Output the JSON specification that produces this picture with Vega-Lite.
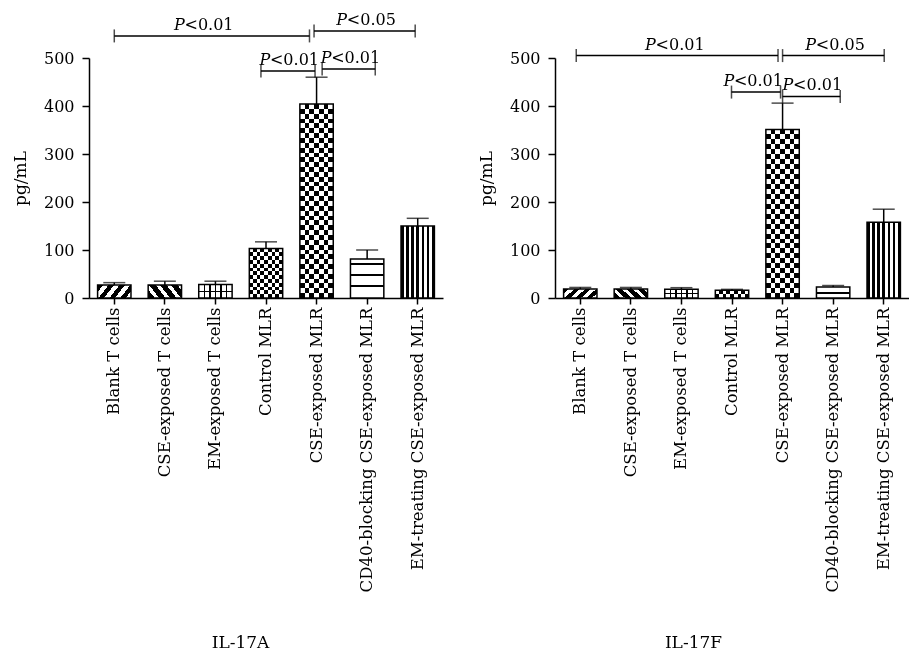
{
  "$schema": "https://vega.github.io/schema/vega-lite/v6.json",
  "padding": {"left": 11, "top": 12, "right": 0, "bottom": 0},
  "spacing": 34,
  "datasets": {
    "a_bars": [
      {"group": "Blank T cells", "value": 27, "upper": 32},
      {"group": "CSE-exposed T cells", "value": 27, "upper": 35},
      {"group": "EM-exposed T cells", "value": 28, "upper": 35},
      {"group": "Control MLR", "value": 103, "upper": 117},
      {"group": "CSE-exposed MLR", "value": 404, "upper": 460},
      {"group": "CD40-blocking CSE-exposed MLR", "value": 81, "upper": 100},
      {"group": "EM-treating CSE-exposed MLR", "value": 150, "upper": 166}
    ],
    "a_sig": [
      {"from": 1, "to": 4.86, "h": 546, "mid": 2.77, "label": "<0.01"},
      {"from": 4.95, "to": 6.95, "h": 556, "mid": 5.98, "label": "<0.05"},
      {"from": 3.9, "to": 4.97, "h": 473, "mid": 4.46, "label": "<0.01"},
      {"from": 5.11, "to": 6.16, "h": 477, "mid": 5.67, "label": "<0.01"}
    ],
    "f_bars": [
      {"group": "Blank T cells", "value": 19, "upper": 22},
      {"group": "CSE-exposed T cells", "value": 19, "upper": 22},
      {"group": "EM-exposed T cells", "value": 18, "upper": 21.5},
      {"group": "Control MLR", "value": 16, "upper": 18},
      {"group": "CSE-exposed MLR", "value": 351, "upper": 406},
      {"group": "CD40-blocking CSE-exposed MLR", "value": 23, "upper": 26},
      {"group": "EM-treating CSE-exposed MLR", "value": 158, "upper": 185}
    ],
    "f_sig": [
      {"from": 0.92, "to": 4.91, "h": 505, "mid": 2.87, "label": "<0.01"},
      {"from": 5.0, "to": 7.01, "h": 505, "mid": 6.04, "label": "<0.05"},
      {"from": 3.99, "to": 4.96, "h": 429, "mid": 4.42, "label": "<0.01"},
      {"from": 5.0, "to": 6.14, "h": 420, "mid": 5.59, "label": "<0.01"}
    ]
  },
  "hconcat": [
    {
      "width": 354,
      "height": 240,
      "resolve": {"scale": {"x": "independent"}},
      "layer": [
        {
          "data": {"name": "a_bars"},
          "encoding": {
            "x": {"field": "group", "type": "nominal", "sort": null,
              "scale": {"domain": ["Blank T cells", "CSE-exposed T cells", "EM-exposed T cells", "Control MLR", "CSE-exposed MLR", "CD40-blocking CSE-exposed MLR", "EM-treating CSE-exposed MLR"], "paddingInner": 0.34, "paddingOuter": 0.17},
              "axis": {"title": "IL-17A", "labelAngle": -90, "labelAlign": "right", "labelBaseline": "middle", "labelLimit": 0, "labelFontSize": 16.5, "tickSize": 6, "labelPadding": 3, "titleX": 151, "titleY": 349, "titleBaseline": "alphabetic"}},
            "y": {"field": "value", "type": "quantitative", "scale": {"domain": [0, 500]},
              "axis": {"title": "pg/mL", "values": [0, 100, 200, 300, 400, 500], "tickSize": 7, "labelPadding": 8, "titlePadding": 14}}
          },
          "layer": [
            {"mark": {"type": "bar", "strokeWidth": 0},
             "encoding": {"fill": {"condition": [
               {"test": "datum.group == 'Blank T cells'", "value": {"gradient": "linear", "x1": 0, "y1": 0, "x2": 1.2, "y2": 0.36, "stops": [{"offset": 0, "color": "#000"}, {"offset": 0.125, "color": "#000"}, {"offset": 0.125, "color": "#fff"}, {"offset": 0.25, "color": "#fff"}, {"offset": 0.25, "color": "#000"}, {"offset": 0.375, "color": "#000"}, {"offset": 0.375, "color": "#fff"}, {"offset": 0.5, "color": "#fff"}, {"offset": 0.5, "color": "#000"}, {"offset": 0.625, "color": "#000"}, {"offset": 0.625, "color": "#fff"}, {"offset": 0.75, "color": "#fff"}, {"offset": 0.75, "color": "#000"}, {"offset": 0.875, "color": "#000"}, {"offset": 0.875, "color": "#fff"}, {"offset": 1, "color": "#fff"}]}},
               {"test": "datum.group == 'CSE-exposed T cells'", "value": {"gradient": "linear", "x1": 0, "y1": 1, "x2": 1.2, "y2": 0.64, "stops": [{"offset": 0, "color": "#000"}, {"offset": 0.15, "color": "#000"}, {"offset": 0.15, "color": "#fff"}, {"offset": 0.25, "color": "#fff"}, {"offset": 0.25, "color": "#000"}, {"offset": 0.4, "color": "#000"}, {"offset": 0.4, "color": "#fff"}, {"offset": 0.5, "color": "#fff"}, {"offset": 0.5, "color": "#000"}, {"offset": 0.65, "color": "#000"}, {"offset": 0.65, "color": "#fff"}, {"offset": 0.75, "color": "#fff"}, {"offset": 0.75, "color": "#000"}, {"offset": 0.9, "color": "#000"}, {"offset": 0.9, "color": "#fff"}, {"offset": 1, "color": "#fff"}]}},
               {"test": "datum.group == 'EM-exposed T cells'", "value": {"gradient": "linear", "x1": 0, "y1": 0, "x2": 1, "y2": 0, "stops": [{"offset": 0, "color": "#fff"}, {"offset": 0.144, "color": "#fff"}, {"offset": 0.144, "color": "#000"}, {"offset": 0.189, "color": "#000"}, {"offset": 0.189, "color": "#fff"}, {"offset": 0.311, "color": "#fff"}, {"offset": 0.311, "color": "#000"}, {"offset": 0.356, "color": "#000"}, {"offset": 0.356, "color": "#fff"}, {"offset": 0.478, "color": "#fff"}, {"offset": 0.478, "color": "#000"}, {"offset": 0.522, "color": "#000"}, {"offset": 0.522, "color": "#fff"}, {"offset": 0.644, "color": "#fff"}, {"offset": 0.644, "color": "#000"}, {"offset": 0.689, "color": "#000"}, {"offset": 0.689, "color": "#fff"}, {"offset": 0.811, "color": "#fff"}, {"offset": 0.811, "color": "#000"}, {"offset": 0.856, "color": "#000"}, {"offset": 0.856, "color": "#fff"}, {"offset": 1, "color": "#fff"}]}},
               {"test": "datum.group == 'Control MLR'", "value": {"gradient": "linear", "x1": 0, "y1": 0, "x2": 1, "y2": 0, "stops": [{"offset": 0, "color": "#000"}, {"offset": 0.1111, "color": "#000"}, {"offset": 0.1111, "color": "#fff"}, {"offset": 0.2222, "color": "#fff"}, {"offset": 0.2222, "color": "#000"}, {"offset": 0.3333, "color": "#000"}, {"offset": 0.3333, "color": "#fff"}, {"offset": 0.4444, "color": "#fff"}, {"offset": 0.4444, "color": "#000"}, {"offset": 0.5556, "color": "#000"}, {"offset": 0.5556, "color": "#fff"}, {"offset": 0.6667, "color": "#fff"}, {"offset": 0.6667, "color": "#000"}, {"offset": 0.7778, "color": "#000"}, {"offset": 0.7778, "color": "#fff"}, {"offset": 0.8889, "color": "#fff"}, {"offset": 0.8889, "color": "#000"}, {"offset": 1, "color": "#000"}]}},
               {"test": "datum.group == 'CSE-exposed MLR'", "value": {"gradient": "linear", "x1": 0, "y1": 0, "x2": 1, "y2": 0, "stops": [{"offset": 0, "color": "#000"}, {"offset": 0.1429, "color": "#000"}, {"offset": 0.1429, "color": "#fff"}, {"offset": 0.2857, "color": "#fff"}, {"offset": 0.2857, "color": "#000"}, {"offset": 0.4286, "color": "#000"}, {"offset": 0.4286, "color": "#fff"}, {"offset": 0.5714, "color": "#fff"}, {"offset": 0.5714, "color": "#000"}, {"offset": 0.7143, "color": "#000"}, {"offset": 0.7143, "color": "#fff"}, {"offset": 0.8571, "color": "#fff"}, {"offset": 0.8571, "color": "#000"}, {"offset": 1, "color": "#000"}]}},
               {"test": "datum.group == 'CD40-blocking CSE-exposed MLR'", "value": {"gradient": "linear", "x1": 0, "y1": 0, "x2": 0, "y2": 1, "stops": [{"offset": 0, "color": "#fff"}, {"offset": 0.1, "color": "#fff"}, {"offset": 0.1, "color": "#000"}, {"offset": 0.15, "color": "#000"}, {"offset": 0.15, "color": "#fff"}, {"offset": 0.39, "color": "#fff"}, {"offset": 0.39, "color": "#000"}, {"offset": 0.44, "color": "#000"}, {"offset": 0.44, "color": "#fff"}, {"offset": 0.66, "color": "#fff"}, {"offset": 0.66, "color": "#000"}, {"offset": 0.71, "color": "#000"}, {"offset": 0.71, "color": "#fff"}, {"offset": 1, "color": "#fff"}]}},
               {"test": "datum.group == 'EM-treating CSE-exposed MLR'", "value": {"gradient": "linear", "x1": 0, "y1": 0, "x2": 1, "y2": 0, "stops": [{"offset": 0, "color": "#000"}, {"offset": 0.0769, "color": "#000"}, {"offset": 0.0769, "color": "#fff"}, {"offset": 0.1538, "color": "#fff"}, {"offset": 0.1538, "color": "#000"}, {"offset": 0.2308, "color": "#000"}, {"offset": 0.2308, "color": "#fff"}, {"offset": 0.3077, "color": "#fff"}, {"offset": 0.3077, "color": "#000"}, {"offset": 0.3846, "color": "#000"}, {"offset": 0.3846, "color": "#fff"}, {"offset": 0.4615, "color": "#fff"}, {"offset": 0.4615, "color": "#000"}, {"offset": 0.5385, "color": "#000"}, {"offset": 0.5385, "color": "#fff"}, {"offset": 0.6154, "color": "#fff"}, {"offset": 0.6154, "color": "#000"}, {"offset": 0.6923, "color": "#000"}, {"offset": 0.6923, "color": "#fff"}, {"offset": 0.7692, "color": "#fff"}, {"offset": 0.7692, "color": "#000"}, {"offset": 0.8462, "color": "#000"}, {"offset": 0.8462, "color": "#fff"}, {"offset": 0.9231, "color": "#fff"}, {"offset": 0.9231, "color": "#000"}, {"offset": 1, "color": "#000"}]}}
             ], "value": "#888"}}},
            {"transform": [{"filter": "datum.group == 'Control MLR' || datum.group == 'CSE-exposed MLR'"}],
             "mark": {"type": "bar", "strokeWidth": 0, "blend": "difference"},
             "encoding": {"fill": {"condition": [
               {"test": "datum.group == 'Control MLR'", "value": {"gradient": "linear", "x1": 0, "y1": 0, "x2": 0, "y2": 1, "stops": [{"offset": 0, "color": "#fff"}, {"offset": 0.0769, "color": "#fff"}, {"offset": 0.0769, "color": "#000"}, {"offset": 0.1538, "color": "#000"}, {"offset": 0.1538, "color": "#fff"}, {"offset": 0.2308, "color": "#fff"}, {"offset": 0.2308, "color": "#000"}, {"offset": 0.3077, "color": "#000"}, {"offset": 0.3077, "color": "#fff"}, {"offset": 0.3846, "color": "#fff"}, {"offset": 0.3846, "color": "#000"}, {"offset": 0.4615, "color": "#000"}, {"offset": 0.4615, "color": "#fff"}, {"offset": 0.5385, "color": "#fff"}, {"offset": 0.5385, "color": "#000"}, {"offset": 0.6154, "color": "#000"}, {"offset": 0.6154, "color": "#fff"}, {"offset": 0.6923, "color": "#fff"}, {"offset": 0.6923, "color": "#000"}, {"offset": 0.7692, "color": "#000"}, {"offset": 0.7692, "color": "#fff"}, {"offset": 0.8462, "color": "#fff"}, {"offset": 0.8462, "color": "#000"}, {"offset": 0.9231, "color": "#000"}, {"offset": 0.9231, "color": "#fff"}, {"offset": 1, "color": "#fff"}]}},
               {"test": "datum.group == 'CSE-exposed MLR'", "value": {"gradient": "linear", "x1": 0, "y1": 0, "x2": 0, "y2": 1, "stops": [{"offset": 0, "color": "#fff"}, {"offset": 0.025, "color": "#fff"}, {"offset": 0.025, "color": "#000"}, {"offset": 0.05, "color": "#000"}, {"offset": 0.05, "color": "#fff"}, {"offset": 0.075, "color": "#fff"}, {"offset": 0.075, "color": "#000"}, {"offset": 0.1, "color": "#000"}, {"offset": 0.1, "color": "#fff"}, {"offset": 0.125, "color": "#fff"}, {"offset": 0.125, "color": "#000"}, {"offset": 0.15, "color": "#000"}, {"offset": 0.15, "color": "#fff"}, {"offset": 0.175, "color": "#fff"}, {"offset": 0.175, "color": "#000"}, {"offset": 0.2, "color": "#000"}, {"offset": 0.2, "color": "#fff"}, {"offset": 0.225, "color": "#fff"}, {"offset": 0.225, "color": "#000"}, {"offset": 0.25, "color": "#000"}, {"offset": 0.25, "color": "#fff"}, {"offset": 0.275, "color": "#fff"}, {"offset": 0.275, "color": "#000"}, {"offset": 0.3, "color": "#000"}, {"offset": 0.3, "color": "#fff"}, {"offset": 0.325, "color": "#fff"}, {"offset": 0.325, "color": "#000"}, {"offset": 0.35, "color": "#000"}, {"offset": 0.35, "color": "#fff"}, {"offset": 0.375, "color": "#fff"}, {"offset": 0.375, "color": "#000"}, {"offset": 0.4, "color": "#000"}, {"offset": 0.4, "color": "#fff"}, {"offset": 0.425, "color": "#fff"}, {"offset": 0.425, "color": "#000"}, {"offset": 0.45, "color": "#000"}, {"offset": 0.45, "color": "#fff"}, {"offset": 0.475, "color": "#fff"}, {"offset": 0.475, "color": "#000"}, {"offset": 0.5, "color": "#000"}, {"offset": 0.5, "color": "#fff"}, {"offset": 0.525, "color": "#fff"}, {"offset": 0.525, "color": "#000"}, {"offset": 0.55, "color": "#000"}, {"offset": 0.55, "color": "#fff"}, {"offset": 0.575, "color": "#fff"}, {"offset": 0.575, "color": "#000"}, {"offset": 0.6, "color": "#000"}, {"offset": 0.6, "color": "#fff"}, {"offset": 0.625, "color": "#fff"}, {"offset": 0.625, "color": "#000"}, {"offset": 0.65, "color": "#000"}, {"offset": 0.65, "color": "#fff"}, {"offset": 0.675, "color": "#fff"}, {"offset": 0.675, "color": "#000"}, {"offset": 0.7, "color": "#000"}, {"offset": 0.7, "color": "#fff"}, {"offset": 0.725, "color": "#fff"}, {"offset": 0.725, "color": "#000"}, {"offset": 0.75, "color": "#000"}, {"offset": 0.75, "color": "#fff"}, {"offset": 0.775, "color": "#fff"}, {"offset": 0.775, "color": "#000"}, {"offset": 0.8, "color": "#000"}, {"offset": 0.8, "color": "#fff"}, {"offset": 0.825, "color": "#fff"}, {"offset": 0.825, "color": "#000"}, {"offset": 0.85, "color": "#000"}, {"offset": 0.85, "color": "#fff"}, {"offset": 0.875, "color": "#fff"}, {"offset": 0.875, "color": "#000"}, {"offset": 0.9, "color": "#000"}, {"offset": 0.9, "color": "#fff"}, {"offset": 0.925, "color": "#fff"}, {"offset": 0.925, "color": "#000"}, {"offset": 0.95, "color": "#000"}, {"offset": 0.95, "color": "#fff"}, {"offset": 0.975, "color": "#fff"}, {"offset": 0.975, "color": "#000"}, {"offset": 1, "color": "#000"}]}}
             ], "value": "#000"}}},
            {"transform": [{"filter": "datum.group == 'EM-exposed T cells'"}],
             "mark": {"type": "bar", "strokeWidth": 0, "blend": "multiply",
               "fill": {"gradient": "linear", "x1": 0, "y1": 0, "x2": 0, "y2": 1, "stops": [{"offset": 0, "color": "#fff"}, {"offset": 0.45, "color": "#fff"}, {"offset": 0.45, "color": "#000"}, {"offset": 0.58, "color": "#000"}, {"offset": 0.58, "color": "#fff"}, {"offset": 1, "color": "#fff"}]}}},
            {"mark": {"type": "bar", "filled": false, "stroke": "#000", "strokeWidth": 1.5}},
            {"mark": {"type": "rule", "color": "#000", "strokeWidth": 1.5}, "encoding": {"y2": {"field": "upper"}}},
            {"mark": {"type": "tick", "color": "#000", "size": 22, "thickness": 1.5},
             "encoding": {"y": {"field": "upper", "type": "quantitative", "scale": {"domain": [0, 500]},
               "axis": {"title": "pg/mL", "values": [0, 100, 200, 300, 400, 500], "tickSize": 7, "labelPadding": 8, "titlePadding": 14}}}}
          ]
        },
        {
          "data": {"name": "a_sig"},
          "encoding": {
            "y": {"field": "h", "type": "quantitative", "scale": {"domain": [0, 500]},
              "axis": {"title": "pg/mL", "values": [0, 100, 200, 300, 400, 500], "tickSize": 7, "labelPadding": 8, "titlePadding": 14}}
          },
          "layer": [
            {"mark": {"type": "rule", "color": "#000", "strokeWidth": 1.5},
             "encoding": {"x": {"field": "from", "type": "quantitative", "scale": {"domain": [0.5, 7.5], "nice": false, "zero": false}, "axis": null}, "x2": {"field": "to"}}},
            {"transform": [{"fold": ["from", "to"], "as": ["end", "pos"]}],
             "mark": {"type": "tick", "orient": "vertical", "color": "#000", "size": 13, "thickness": 1.5},
             "encoding": {"x": {"field": "pos", "type": "quantitative", "scale": {"domain": [0.5, 7.5], "nice": false, "zero": false}, "axis": null}}},
            {"mark": {"type": "text", "text": "P", "fontStyle": "italic", "align": "left", "baseline": "alphabetic", "dx": -29.8, "dy": -6},
             "encoding": {"x": {"field": "mid", "type": "quantitative", "scale": {"domain": [0.5, 7.5], "nice": false, "zero": false}, "axis": null}}},
            {"mark": {"type": "text", "align": "left", "baseline": "alphabetic", "dx": -19.3, "dy": -6},
             "encoding": {"x": {"field": "mid", "type": "quantitative", "scale": {"domain": [0.5, 7.5], "nice": false, "zero": false}, "axis": null}, "text": {"field": "label"}}}
          ]
        }
      ]
    },
    {
      "width": 354,
      "height": 240,
      "resolve": {"scale": {"x": "independent"}},
      "layer": [
        {
          "data": {"name": "f_bars"},
          "encoding": {
            "x": {"field": "group", "type": "nominal", "sort": null,
              "scale": {"domain": ["Blank T cells", "CSE-exposed T cells", "EM-exposed T cells", "Control MLR", "CSE-exposed MLR", "CD40-blocking CSE-exposed MLR", "EM-treating CSE-exposed MLR"], "paddingInner": 0.34, "paddingOuter": 0.17},
              "axis": {"title": "IL-17F", "labelAngle": -90, "labelAlign": "right", "labelBaseline": "middle", "labelLimit": 0, "labelFontSize": 16.5, "tickSize": 6, "labelPadding": 3, "titleX": 138, "titleY": 349, "titleBaseline": "alphabetic"}},
            "y": {"field": "value", "type": "quantitative", "scale": {"domain": [0, 500]},
              "axis": {"title": "pg/mL", "values": [0, 100, 200, 300, 400, 500], "tickSize": 7, "labelPadding": 8, "titlePadding": 14}}
          },
          "layer": [
            {"mark": {"type": "bar", "strokeWidth": 0},
             "encoding": {"fill": {"condition": [
               {"test": "datum.group == 'Blank T cells'", "value": {"gradient": "linear", "x1": 0, "y1": 0, "x2": 1.2, "y2": 0.36, "stops": [{"offset": 0, "color": "#000"}, {"offset": 0.125, "color": "#000"}, {"offset": 0.125, "color": "#fff"}, {"offset": 0.25, "color": "#fff"}, {"offset": 0.25, "color": "#000"}, {"offset": 0.375, "color": "#000"}, {"offset": 0.375, "color": "#fff"}, {"offset": 0.5, "color": "#fff"}, {"offset": 0.5, "color": "#000"}, {"offset": 0.625, "color": "#000"}, {"offset": 0.625, "color": "#fff"}, {"offset": 0.75, "color": "#fff"}, {"offset": 0.75, "color": "#000"}, {"offset": 0.875, "color": "#000"}, {"offset": 0.875, "color": "#fff"}, {"offset": 1, "color": "#fff"}]}},
               {"test": "datum.group == 'CSE-exposed T cells'", "value": {"gradient": "linear", "x1": 0, "y1": 1, "x2": 1.2, "y2": 0.64, "stops": [{"offset": 0, "color": "#000"}, {"offset": 0.15, "color": "#000"}, {"offset": 0.15, "color": "#fff"}, {"offset": 0.25, "color": "#fff"}, {"offset": 0.25, "color": "#000"}, {"offset": 0.4, "color": "#000"}, {"offset": 0.4, "color": "#fff"}, {"offset": 0.5, "color": "#fff"}, {"offset": 0.5, "color": "#000"}, {"offset": 0.65, "color": "#000"}, {"offset": 0.65, "color": "#fff"}, {"offset": 0.75, "color": "#fff"}, {"offset": 0.75, "color": "#000"}, {"offset": 0.9, "color": "#000"}, {"offset": 0.9, "color": "#fff"}, {"offset": 1, "color": "#fff"}]}},
               {"test": "datum.group == 'EM-exposed T cells'", "value": {"gradient": "linear", "x1": 0, "y1": 0, "x2": 1, "y2": 0, "stops": [{"offset": 0, "color": "#fff"}, {"offset": 0.144, "color": "#fff"}, {"offset": 0.144, "color": "#000"}, {"offset": 0.189, "color": "#000"}, {"offset": 0.189, "color": "#fff"}, {"offset": 0.311, "color": "#fff"}, {"offset": 0.311, "color": "#000"}, {"offset": 0.356, "color": "#000"}, {"offset": 0.356, "color": "#fff"}, {"offset": 0.478, "color": "#fff"}, {"offset": 0.478, "color": "#000"}, {"offset": 0.522, "color": "#000"}, {"offset": 0.522, "color": "#fff"}, {"offset": 0.644, "color": "#fff"}, {"offset": 0.644, "color": "#000"}, {"offset": 0.689, "color": "#000"}, {"offset": 0.689, "color": "#fff"}, {"offset": 0.811, "color": "#fff"}, {"offset": 0.811, "color": "#000"}, {"offset": 0.856, "color": "#000"}, {"offset": 0.856, "color": "#fff"}, {"offset": 1, "color": "#fff"}]}},
               {"test": "datum.group == 'Control MLR'", "value": {"gradient": "linear", "x1": 0, "y1": 0, "x2": 1, "y2": 0, "stops": [{"offset": 0, "color": "#000"}, {"offset": 0.1111, "color": "#000"}, {"offset": 0.1111, "color": "#fff"}, {"offset": 0.2222, "color": "#fff"}, {"offset": 0.2222, "color": "#000"}, {"offset": 0.3333, "color": "#000"}, {"offset": 0.3333, "color": "#fff"}, {"offset": 0.4444, "color": "#fff"}, {"offset": 0.4444, "color": "#000"}, {"offset": 0.5556, "color": "#000"}, {"offset": 0.5556, "color": "#fff"}, {"offset": 0.6667, "color": "#fff"}, {"offset": 0.6667, "color": "#000"}, {"offset": 0.7778, "color": "#000"}, {"offset": 0.7778, "color": "#fff"}, {"offset": 0.8889, "color": "#fff"}, {"offset": 0.8889, "color": "#000"}, {"offset": 1, "color": "#000"}]}},
               {"test": "datum.group == 'CSE-exposed MLR'", "value": {"gradient": "linear", "x1": 0, "y1": 0, "x2": 1, "y2": 0, "stops": [{"offset": 0, "color": "#000"}, {"offset": 0.1429, "color": "#000"}, {"offset": 0.1429, "color": "#fff"}, {"offset": 0.2857, "color": "#fff"}, {"offset": 0.2857, "color": "#000"}, {"offset": 0.4286, "color": "#000"}, {"offset": 0.4286, "color": "#fff"}, {"offset": 0.5714, "color": "#fff"}, {"offset": 0.5714, "color": "#000"}, {"offset": 0.7143, "color": "#000"}, {"offset": 0.7143, "color": "#fff"}, {"offset": 0.8571, "color": "#fff"}, {"offset": 0.8571, "color": "#000"}, {"offset": 1, "color": "#000"}]}},
               {"test": "datum.group == 'CD40-blocking CSE-exposed MLR'", "value": {"gradient": "linear", "x1": 0, "y1": 0, "x2": 0, "y2": 1, "stops": [{"offset": 0, "color": "#fff"}, {"offset": 0.45, "color": "#fff"}, {"offset": 0.45, "color": "#000"}, {"offset": 0.62, "color": "#000"}, {"offset": 0.62, "color": "#fff"}, {"offset": 1, "color": "#fff"}]}},
               {"test": "datum.group == 'EM-treating CSE-exposed MLR'", "value": {"gradient": "linear", "x1": 0, "y1": 0, "x2": 1, "y2": 0, "stops": [{"offset": 0, "color": "#000"}, {"offset": 0.0769, "color": "#000"}, {"offset": 0.0769, "color": "#fff"}, {"offset": 0.1538, "color": "#fff"}, {"offset": 0.1538, "color": "#000"}, {"offset": 0.2308, "color": "#000"}, {"offset": 0.2308, "color": "#fff"}, {"offset": 0.3077, "color": "#fff"}, {"offset": 0.3077, "color": "#000"}, {"offset": 0.3846, "color": "#000"}, {"offset": 0.3846, "color": "#fff"}, {"offset": 0.4615, "color": "#fff"}, {"offset": 0.4615, "color": "#000"}, {"offset": 0.5385, "color": "#000"}, {"offset": 0.5385, "color": "#fff"}, {"offset": 0.6154, "color": "#fff"}, {"offset": 0.6154, "color": "#000"}, {"offset": 0.6923, "color": "#000"}, {"offset": 0.6923, "color": "#fff"}, {"offset": 0.7692, "color": "#fff"}, {"offset": 0.7692, "color": "#000"}, {"offset": 0.8462, "color": "#000"}, {"offset": 0.8462, "color": "#fff"}, {"offset": 0.9231, "color": "#fff"}, {"offset": 0.9231, "color": "#000"}, {"offset": 1, "color": "#000"}]}}
             ], "value": "#888"}}},
            {"transform": [{"filter": "datum.group == 'Control MLR' || datum.group == 'CSE-exposed MLR'"}],
             "mark": {"type": "bar", "strokeWidth": 0, "blend": "difference"},
             "encoding": {"fill": {"condition": [
               {"test": "datum.group == 'Control MLR'", "value": {"gradient": "linear", "x1": 0, "y1": 0, "x2": 0, "y2": 1, "stops": [{"offset": 0, "color": "#fff"}, {"offset": 0.5, "color": "#fff"}, {"offset": 0.5, "color": "#000"}, {"offset": 1, "color": "#000"}]}},
               {"test": "datum.group == 'CSE-exposed MLR'", "value": {"gradient": "linear", "x1": 0, "y1": 0, "x2": 0, "y2": 1, "stops": [{"offset": 0, "color": "#fff"}, {"offset": 0.0294, "color": "#fff"}, {"offset": 0.0294, "color": "#000"}, {"offset": 0.0588, "color": "#000"}, {"offset": 0.0588, "color": "#fff"}, {"offset": 0.0882, "color": "#fff"}, {"offset": 0.0882, "color": "#000"}, {"offset": 0.1176, "color": "#000"}, {"offset": 0.1176, "color": "#fff"}, {"offset": 0.1471, "color": "#fff"}, {"offset": 0.1471, "color": "#000"}, {"offset": 0.1765, "color": "#000"}, {"offset": 0.1765, "color": "#fff"}, {"offset": 0.2059, "color": "#fff"}, {"offset": 0.2059, "color": "#000"}, {"offset": 0.2353, "color": "#000"}, {"offset": 0.2353, "color": "#fff"}, {"offset": 0.2647, "color": "#fff"}, {"offset": 0.2647, "color": "#000"}, {"offset": 0.2941, "color": "#000"}, {"offset": 0.2941, "color": "#fff"}, {"offset": 0.3235, "color": "#fff"}, {"offset": 0.3235, "color": "#000"}, {"offset": 0.3529, "color": "#000"}, {"offset": 0.3529, "color": "#fff"}, {"offset": 0.3824, "color": "#fff"}, {"offset": 0.3824, "color": "#000"}, {"offset": 0.4118, "color": "#000"}, {"offset": 0.4118, "color": "#fff"}, {"offset": 0.4412, "color": "#fff"}, {"offset": 0.4412, "color": "#000"}, {"offset": 0.4706, "color": "#000"}, {"offset": 0.4706, "color": "#fff"}, {"offset": 0.5, "color": "#fff"}, {"offset": 0.5, "color": "#000"}, {"offset": 0.5294, "color": "#000"}, {"offset": 0.5294, "color": "#fff"}, {"offset": 0.5588, "color": "#fff"}, {"offset": 0.5588, "color": "#000"}, {"offset": 0.5882, "color": "#000"}, {"offset": 0.5882, "color": "#fff"}, {"offset": 0.6176, "color": "#fff"}, {"offset": 0.6176, "color": "#000"}, {"offset": 0.6471, "color": "#000"}, {"offset": 0.6471, "color": "#fff"}, {"offset": 0.6765, "color": "#fff"}, {"offset": 0.6765, "color": "#000"}, {"offset": 0.7059, "color": "#000"}, {"offset": 0.7059, "color": "#fff"}, {"offset": 0.7353, "color": "#fff"}, {"offset": 0.7353, "color": "#000"}, {"offset": 0.7647, "color": "#000"}, {"offset": 0.7647, "color": "#fff"}, {"offset": 0.7941, "color": "#fff"}, {"offset": 0.7941, "color": "#000"}, {"offset": 0.8235, "color": "#000"}, {"offset": 0.8235, "color": "#fff"}, {"offset": 0.8529, "color": "#fff"}, {"offset": 0.8529, "color": "#000"}, {"offset": 0.8824, "color": "#000"}, {"offset": 0.8824, "color": "#fff"}, {"offset": 0.9118, "color": "#fff"}, {"offset": 0.9118, "color": "#000"}, {"offset": 0.9412, "color": "#000"}, {"offset": 0.9412, "color": "#fff"}, {"offset": 0.9706, "color": "#fff"}, {"offset": 0.9706, "color": "#000"}, {"offset": 1, "color": "#000"}]}}
             ], "value": "#000"}}},
            {"transform": [{"filter": "datum.group == 'EM-exposed T cells'"}],
             "mark": {"type": "bar", "strokeWidth": 0, "blend": "multiply",
               "fill": {"gradient": "linear", "x1": 0, "y1": 0, "x2": 0, "y2": 1, "stops": [{"offset": 0, "color": "#fff"}, {"offset": 0.42, "color": "#fff"}, {"offset": 0.42, "color": "#000"}, {"offset": 0.58, "color": "#000"}, {"offset": 0.58, "color": "#fff"}, {"offset": 1, "color": "#fff"}]}}},
            {"mark": {"type": "bar", "filled": false, "stroke": "#000", "strokeWidth": 1.5}},
            {"mark": {"type": "rule", "color": "#000", "strokeWidth": 1.5}, "encoding": {"y2": {"field": "upper"}}},
            {"mark": {"type": "tick", "color": "#000", "size": 22, "thickness": 1.5},
             "encoding": {"y": {"field": "upper", "type": "quantitative", "scale": {"domain": [0, 500]},
               "axis": {"title": "pg/mL", "values": [0, 100, 200, 300, 400, 500], "tickSize": 7, "labelPadding": 8, "titlePadding": 14}}}}
          ]
        },
        {
          "data": {"name": "f_sig"},
          "encoding": {
            "y": {"field": "h", "type": "quantitative", "scale": {"domain": [0, 500]},
              "axis": {"title": "pg/mL", "values": [0, 100, 200, 300, 400, 500], "tickSize": 7, "labelPadding": 8, "titlePadding": 14}}
          },
          "layer": [
            {"mark": {"type": "rule", "color": "#000", "strokeWidth": 1.5},
             "encoding": {"x": {"field": "from", "type": "quantitative", "scale": {"domain": [0.5, 7.5], "nice": false, "zero": false}, "axis": null}, "x2": {"field": "to"}}},
            {"transform": [{"fold": ["from", "to"], "as": ["end", "pos"]}],
             "mark": {"type": "tick", "orient": "vertical", "color": "#000", "size": 13, "thickness": 1.5},
             "encoding": {"x": {"field": "pos", "type": "quantitative", "scale": {"domain": [0.5, 7.5], "nice": false, "zero": false}, "axis": null}}},
            {"mark": {"type": "text", "text": "P", "fontStyle": "italic", "align": "left", "baseline": "alphabetic", "dx": -29.8, "dy": -6},
             "encoding": {"x": {"field": "mid", "type": "quantitative", "scale": {"domain": [0.5, 7.5], "nice": false, "zero": false}, "axis": null}}},
            {"mark": {"type": "text", "align": "left", "baseline": "alphabetic", "dx": -19.3, "dy": -6},
             "encoding": {"x": {"field": "mid", "type": "quantitative", "scale": {"domain": [0.5, 7.5], "nice": false, "zero": false}, "axis": null}, "text": {"field": "label"}}}
          ]
        }
      ]
    }
  ],
  "config": {
    "view": {"stroke": null},
    "axis": {"labelFont": "DejaVu Serif", "titleFont": "DejaVu Serif", "labelFontSize": 16, "titleFontSize": 17, "titleFontWeight": "normal", "labelColor": "#000", "titleColor": "#000", "domainColor": "#000", "tickColor": "#000", "domainWidth": 1.5, "tickWidth": 1.5, "grid": false},
    "text": {"font": "DejaVu Serif", "fontSize": 16, "color": "#000"}
  }
}
